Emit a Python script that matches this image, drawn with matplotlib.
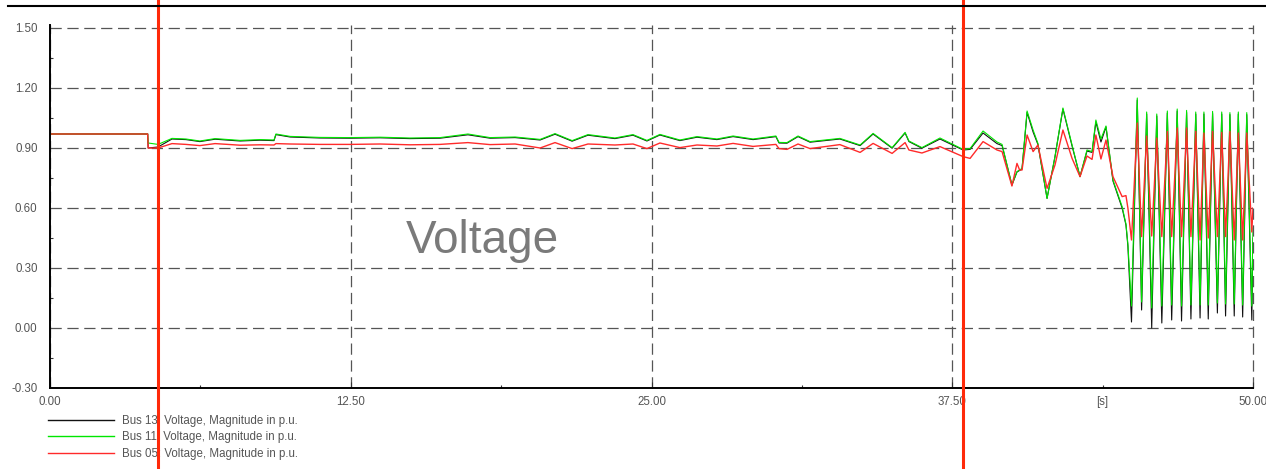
import matplotlib
matplotlib.use("Agg")
import matplotlib.pyplot as plt
from matplotlib.lines import Line2D
from matplotlib.ticker import FixedLocator, FixedFormatter

plt.rcParams["font.family"] = ["Liberation Sans", "DejaVu Sans"]

# time axis [s], shared by the three traces
time_s = [
    0.00, 4.06, 4.08, 4.49, 5.07, 5.65, 6.23, 6.86, 7.90, 8.73,
    9.31, 9.39, 9.98, 11.22, 12.47, 13.72, 14.96, 16.21, 17.37, 18.29,
    19.33, 20.37, 20.99, 21.70, 22.36, 23.48, 24.23, 24.81, 25.35, 26.18,
    26.89, 27.72, 28.39, 29.22, 30.17, 30.30, 30.63, 31.09, 31.59, 32.83,
    33.67, 34.21, 35.00, 35.54, 35.70, 36.24, 36.99, 37.95, 38.24, 38.78,
    39.36, 39.57, 39.98, 40.19, 40.30, 40.40, 40.61, 40.86, 41.06, 41.44,
    41.77, 42.10, 42.48, 42.81, 43.10, 43.31, 43.47, 43.68, 43.89, 44.18,
    44.56, 44.72, 44.80, 44.95, 45.19, 45.37, 45.58, 45.79, 46.00, 46.21,
    46.44, 46.62, 46.85, 47.03, 47.24, 47.42, 47.62, 47.80, 47.96, 48.14,
    48.32, 48.52, 48.70, 48.86, 49.04, 49.22, 49.39, 49.57, 49.74, 49.95,
    50.00,
]

bus13 = [
    0.970, 0.970, 0.900, 0.905, 0.945, 0.942, 0.932, 0.944, 0.935, 0.939,
    0.937, 0.967, 0.955, 0.950, 0.949, 0.951, 0.947, 0.949, 0.966, 0.949,
    0.952, 0.940, 0.969, 0.934, 0.964, 0.947, 0.964, 0.935, 0.965, 0.937,
    0.954, 0.942, 0.957, 0.942, 0.957, 0.925, 0.924, 0.957, 0.929, 0.945,
    0.912, 0.970, 0.899, 0.975, 0.932, 0.899, 0.945, 0.890, 0.893, 0.975,
    0.922, 0.912, 0.715, 0.780, 0.788, 0.795, 1.078, 0.980, 0.918, 0.648,
    0.857, 1.095, 0.910, 0.757, 0.885, 0.878, 1.030, 0.930, 1.005, 0.735,
    0.600, 0.515, 0.410, 0.030, 1.140, 0.090, 1.070, 0.000, 1.060, 0.025,
    1.075, 0.040, 1.085, 0.035, 1.078, 0.045, 1.070, 0.050, 1.070, 0.045,
    1.073, 0.075, 1.070, 0.060, 1.067, 0.060, 1.070, 0.055, 1.067, 0.040,
    0.450,
]

bus11 = [
    0.970, 0.970, 0.925, 0.918, 0.948, 0.945, 0.935, 0.947, 0.938, 0.942,
    0.940, 0.970, 0.958, 0.953, 0.952, 0.954, 0.950, 0.952, 0.970, 0.952,
    0.955, 0.943, 0.972, 0.937, 0.967, 0.950, 0.967, 0.938, 0.968, 0.940,
    0.957, 0.945, 0.960, 0.945, 0.960, 0.928, 0.927, 0.960, 0.932, 0.948,
    0.915, 0.973, 0.902, 0.978, 0.935, 0.902, 0.950, 0.893, 0.897, 0.985,
    0.930, 0.918, 0.715, 0.782, 0.790, 0.798, 1.085, 0.990, 0.923, 0.648,
    0.857, 1.100, 0.915, 0.757, 0.890, 0.882, 1.040, 0.945, 1.010, 0.740,
    0.607, 0.520, 0.420, 0.110, 1.150, 0.130, 1.080, 0.100, 1.070, 0.110,
    1.085, 0.115, 1.095, 0.110, 1.088, 0.115, 1.080, 0.115, 1.080, 0.115,
    1.083, 0.125, 1.080, 0.120, 1.077, 0.120, 1.080, 0.115, 1.077, 0.110,
    0.500,
]

bus05 = [
    0.970, 0.970, 0.900, 0.900, 0.922, 0.918, 0.912, 0.922, 0.914, 0.916,
    0.915, 0.922, 0.920, 0.918, 0.918, 0.920, 0.916, 0.918, 0.927, 0.917,
    0.920, 0.900, 0.927, 0.897, 0.920, 0.915, 0.920, 0.897, 0.925, 0.902,
    0.915, 0.910, 0.923, 0.908, 0.918, 0.897, 0.893, 0.920, 0.897, 0.917,
    0.878, 0.923, 0.873, 0.927, 0.890, 0.875, 0.907, 0.857, 0.848, 0.932,
    0.890, 0.882, 0.710, 0.823, 0.790, 0.790, 0.965, 0.882, 0.915, 0.698,
    0.815, 0.990, 0.848, 0.757, 0.860, 0.843, 0.965, 0.845, 0.940, 0.757,
    0.657, 0.662, 0.600, 0.440, 1.025, 0.457, 0.960, 0.460, 0.950, 0.457,
    0.983, 0.457, 1.000, 0.457, 1.000, 0.457, 0.983, 0.440, 0.975, 0.450,
    0.983, 0.457, 0.978, 0.457, 0.983, 0.440, 0.975, 0.440, 0.975, 0.480,
    0.600,
]

series = [
    (bus13, "#111111", 0.8, "Bus 13: Voltage, Magnitude in p.u."),
    (bus11, "#00e600", 0.8, "Bus 11: Voltage, Magnitude in p.u."),
    (bus05, "#ff2a2a", 1.0, "Bus 05: Voltage, Magnitude in p.u."),
]

event_times = [4.49, 37.95]
y_ticks = [-0.30, 0.00, 0.30, 0.60, 0.90, 1.20, 1.50]
x_ticks = [0.0, 12.5, 25.0, 37.5, 50.0]
x_minor = [6.25, 18.75, 31.25, 43.75]
x_minor_labels = ["", "", "", "[s]"]

W, H = 1266, 469
fig = plt.figure(figsize=(W / 100, H / 100), dpi=100)
ax = fig.add_axes([50 / W, 1 - 388 / H, (1253 - 50) / W, (388 - 25) / H])

handles = []
for values, color, lw, label in series:
    (ln,) = ax.plot(time_s, values, color=color, linewidth=lw, label=label)
    handles.append(ln)

ax.set_xlim(0, 50)
ax.set_ylim(-0.30, 1.515)

grid_style = dict(color="#555555", linewidth=0.9, linestyle=(0, (9, 4.5)))
for yv in y_ticks[1:]:
    ax.axhline(yv, zorder=0.5, **grid_style)
for xv in x_ticks:
    ax.axvline(xv, zorder=0.5, clip_on=False, **grid_style)

ax.set_yticks(y_ticks)
ax.set_yticklabels([f"{v:.2f}" for v in y_ticks])
ax.yaxis.set_minor_locator(FixedLocator([-0.15, 0.15, 0.45, 0.75, 1.05, 1.35]))
ax.set_xticks(x_ticks)
ax.set_xticklabels([f"{v:.2f}" for v in x_ticks])
ax.xaxis.set_minor_locator(FixedLocator(x_minor))
ax.xaxis.set_minor_formatter(FixedFormatter(x_minor_labels))

ax.tick_params(which="both", direction="in", colors="#333333",
               labelcolor="#555555", labelsize=8.3, width=0.8)
ax.tick_params(axis="x", which="major", length=4, pad=6)
ax.tick_params(axis="x", which="minor", length=2.5, pad=6)
ax.tick_params(axis="y", which="major", length=0, pad=9)
ax.tick_params(axis="y", which="minor", length=2.5)

for side in ["top", "right"]:
    ax.spines[side].set_visible(False)
for side in ["left", "bottom"]:
    ax.spines[side].set_linewidth(1.4)
    ax.spines[side].set_color("black")

ax.text(17.97, 0.375, "Voltage", fontsize=33, color="#7a7a7a",
        ha="center", va="baseline")

for t in event_times:
    ax.axvline(t, ymin=-0.225, ymax=1.07, clip_on=False,
               color="#ff2a0a", linewidth=2.2, zorder=6)

leg = ax.legend(handles=handles, loc="upper left",
                bbox_to_anchor=(48 / W, 1 - 414.6 / H),
                bbox_transform=fig.transFigure, frameon=False,
                fontsize=8.3, handlelength=5.75, handletextpad=0.7,
                labelspacing=0.39, borderpad=0, borderaxespad=0)
for txt in leg.get_texts():
    txt.set_color("#555555")
for hl in leg.get_lines():
    hl.set_linewidth(1.0)

# thin rule along the top of the window
fig.add_artist(Line2D([8 / W, 1.0], [1 - 6 / H, 1 - 6 / H],
                      color="black", linewidth=1.5))

fig.savefig("out.png", dpi=100)
